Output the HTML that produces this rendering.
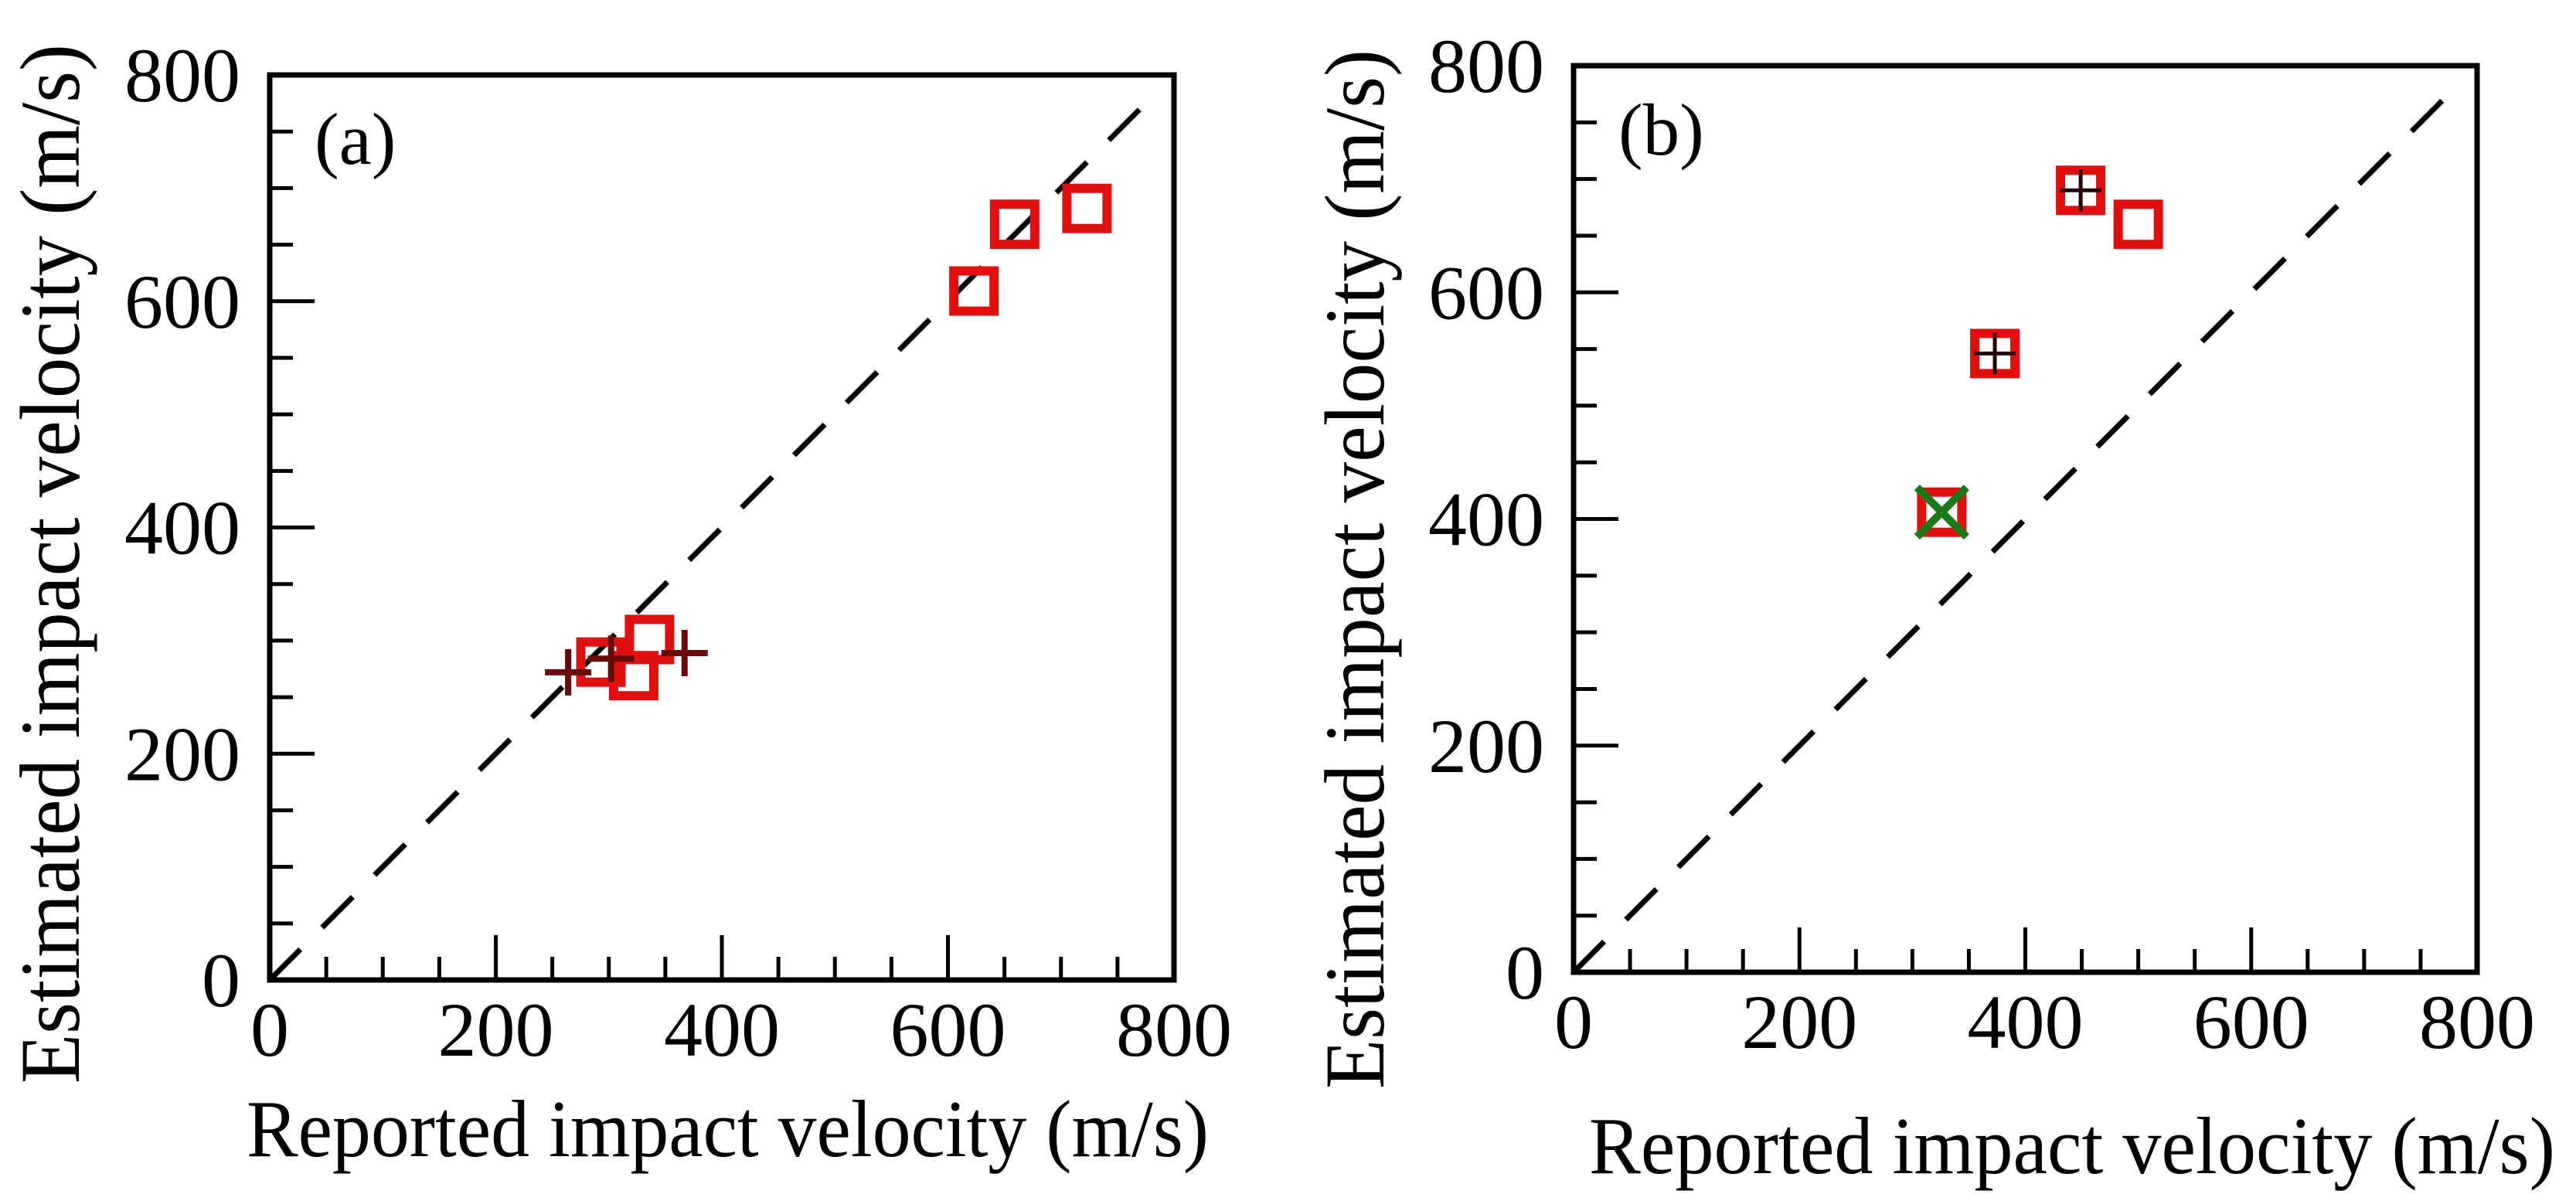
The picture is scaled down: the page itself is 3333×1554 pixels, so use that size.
<!DOCTYPE html>
<html><head><meta charset="utf-8"><style>
html,body{margin:0;padding:0;background:#fff;}
svg{display:block;font-family:"Liberation Serif",serif;}
</style></head>
<body>
<svg id="fig" width="3333" height="1554" viewBox="0 0 3333 1554" xmlns="http://www.w3.org/2000/svg"></svg>
<script>
// Panel (a) data
const aSquaresX = [623, 659, 723, 336, 293, 322];
const aSquaresY = [609, 668, 682, 301, 281, 269];
const aPlusX = [264, 367, 302];
const aPlusY = [272, 289, 284];
// Panel (b) data
const bSquaresX = [449, 500, 373, 326];
const bSquaresY = [690, 660, 546, 406];
const bPlusX = [449, 373];
const bPlusY = [690, 546];
const bCrossX = [326];
const bCrossY = [406];
const tickValues = [0, 200, 400, 600, 800];
const tickLabels = ["0", "200", "400", "600", "800"];
const diagEnd = 770;

const NS = "http://www.w3.org/2000/svg";
const svg = document.getElementById('fig');
function mk(tag, attrs, parent){const e=document.createElementNS(NS,tag);for(const k in attrs)e.setAttribute(k,attrs[k]);(parent||svg).appendChild(e);return e;}

function panel(p){
  const g = mk('g',{});
  
  
  const sx = v => p.x0 + v/800*(p.x1-p.x0);
  const sy = v => p.y1 - v/800*(p.y1-p.y0);
  const d = mk('line',{x1:sx(0),y1:sy(0),x2:sx(diagEnd),y2:sy(diagEnd),stroke:'#000','stroke-width':7,'stroke-dasharray':'56 40'},g);
  
  
  for(let v=0; v<=800; v+=50){
    const major = v%200===0, L = major?58:30;
    if(v>0 && v<800){
      const t1 = mk('line',{x1:sx(v),y1:p.y1,x2:sx(v),y2:p.y1-L,stroke:'#000','stroke-width':5},g);
      
      
      const t2 = mk('line',{x1:p.x0,y1:sy(v),x2:p.x0+L,y2:sy(v),stroke:'#000','stroke-width':5},g);
      
      
    }
  }
  tickValues.forEach((v,i)=>{
    const tx = mk('text',{x:sx(v),y:p.y1+98,'font-size':100,'text-anchor':'middle'},g);
    tx.textContent = tickLabels[i];
    
    
    const ty = mk('text',{x:p.x0-38,y:sy(v)+34,'font-size':100,'text-anchor':'end'},g);
    ty.textContent = tickLabels[i];
    
    
  });
  const fr = mk('rect',{x:p.x0,y:p.y0,width:p.x1-p.x0,height:p.y1-p.y0,fill:'none',stroke:'#000','stroke-width':7},g);
  
  
  p.sqX.forEach((x,i)=>{
    const r = mk('rect',{x:sx(x)-26,y:sy(p.sqY[i])-26,width:52,height:52,fill:'none',stroke:'#e01010','stroke-width':12},g);
    
    
  });
  p.plX.forEach((x,i)=>{
    const cx=sx(x), cy=sy(p.plY[i]), h=p.plusSize;
    const pl = mk('path',{d:`M${cx-h},${cy}H${cx+h}M${cx},${cy-h}V${cy+h}`,stroke:p.plusColor,'stroke-width':p.plusW,fill:'none'},g);
    
    
  });
  (p.crX||[]).forEach((x,i)=>{
    const cx=sx(x), cy=sy(p.crY[i]), h=32;
    const c = mk('path',{d:`M${cx-h},${cy-h}L${cx+h},${cy+h}M${cx-h},${cy+h}L${cx+h},${cy-h}`,stroke:'#1a7a1a','stroke-width':10,fill:'none'},g);
    
    
  });
  const lab = mk('text',{x:p.x0+58,y:p.y0+115,'font-size':95},g);
  lab.textContent = '(' + p.id + ')';
  
  
  const xt = mk('text',{x:p.xtX,y:p.xtY,'font-size':105,textLength:p.xtLen,lengthAdjust:'spacingAndGlyphs'},g);
  xt.textContent = 'Reported impact velocity (m/s)';
  
  
  const yt = mk('text',{x:0,y:0,'font-size':110,textLength:1345,lengthAdjust:'spacingAndGlyphs',transform:`translate(${p.ytX},${p.ytC+672}) rotate(-90)`},g);
  yt.textContent = 'Estimated impact velocity (m/s)';
  
  
}

panel({id:'a',x0:349,x1:1519,y0:97,y1:1268,sqX:aSquaresX,sqY:aSquaresY,plX:aPlusX,plY:aPlusY,plusColor:'#6a0a0a',plusW:8,plusSize:30,
  xtX:319,xtY:1496,xtLen:1245,ytX:102,ytC:730});
panel({id:'b',x0:2036,x1:3205,y0:85,y1:1258,sqX:bSquaresX,sqY:bSquaresY,plX:bPlusX,plY:bPlusY,crX:bCrossX,crY:bCrossY,plusColor:'#2a0505',plusW:5,plusSize:27,
  xtX:2056,xtY:1518,xtLen:1250,ytX:1790,ytC:737});
</script>
</body></html>
